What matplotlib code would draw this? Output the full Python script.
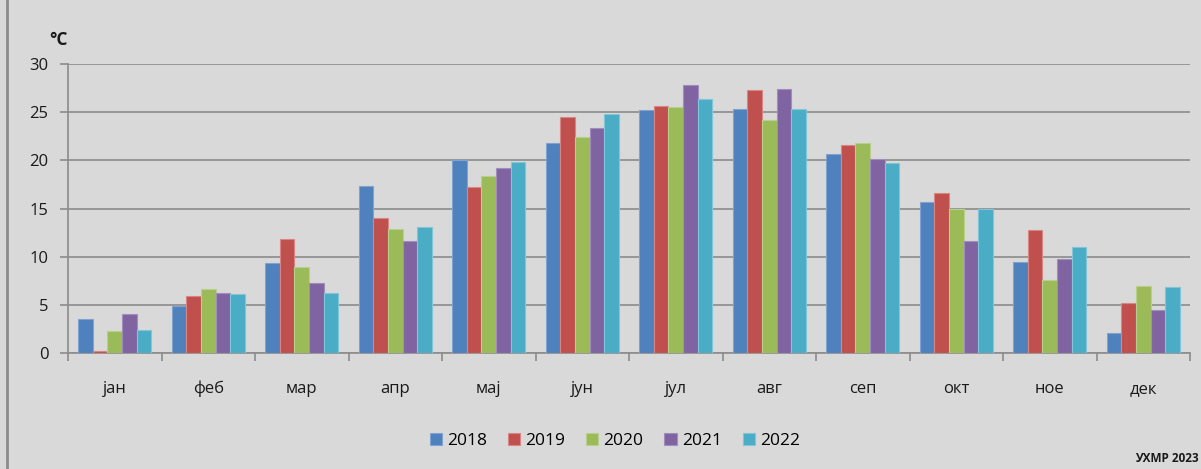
import matplotlib
matplotlib.use("Agg")
import matplotlib.pyplot as plt
import numpy as np
from matplotlib.lines import Line2D

months = ["јан", "феб", "мар", "апр", "мај", "јун", "јул", "авг", "сеп", "окт", "ное", "дек"]
years = ["2018", "2019", "2020", "2021", "2022"]
t2018 = [3.5, 4.9, 9.3, 17.3, 20.0, 21.8, 25.2, 25.3, 20.7, 15.7, 9.4, 2.1]
t2019 = [0.2, 5.9, 11.8, 14.0, 17.2, 24.5, 25.6, 27.3, 21.6, 16.6, 12.8, 5.2]
t2020 = [2.3, 6.6, 8.9, 12.9, 18.4, 22.4, 25.5, 24.2, 21.8, 15.0, 7.6, 7.0]
t2021 = [4.1, 6.2, 7.3, 11.6, 19.2, 23.4, 27.8, 27.4, 20.1, 11.6, 9.8, 4.5]
t2022 = [2.4, 6.1, 6.2, 13.1, 19.8, 24.8, 26.4, 25.3, 19.7, 15.0, 11.0, 6.8]
series = [t2018, t2019, t2020, t2021, t2022]
colors = ["#4F81BD", "#C0504D", "#9BBB59", "#8064A2", "#4BACC6"]
edges = ["#7FA3D0", "#D98683", "#B9D08C", "#A08CBD", "#80C6D8"]

plt.rcParams['font.family'] = ['Open Sans', 'DejaVu Sans']
bg = "#D9D9D9"
fig = plt.figure(figsize=(12.01, 4.69), dpi=100, facecolor=bg)
ax = fig.add_axes([68/1201, 1-353/469, (1190-68)/1201, (353-64)/469])
ax.set_facecolor(bg)

n = len(series)
x = np.arange(len(months))
w = 0.78 / n
for i, (s, c, e) in enumerate(zip(series, colors, edges)):
    ax.bar(x - 0.39 + w*(i+0.5), s, w, color=c, edgecolor=e, linewidth=0.8,
           label=years[i], zorder=3)

ax.set_xlim(-0.5, len(months)-0.5)
ax.set_ylim(0, 30)
ax.set_yticks(range(0, 31, 5))
ax.yaxis.grid(True, color="#8C8C8C", linewidth=1.2, zorder=0)
ax.set_axisbelow(True)
for sp in ["top", "right"]:
    ax.spines[sp].set_visible(False)
ax.spines["left"].set_color("#8C8C8C")
ax.spines["bottom"].set_color("#8C8C8C")
ax.spines["left"].set_linewidth(1.2)
ax.spines["bottom"].set_linewidth(1.2)

ax.set_xticks(x)
ax.set_xticklabels(months, fontsize=12, color="#1A1A1A")
ax.tick_params(axis="x", length=0, pad=20)
ax.set_xticks(np.arange(-0.5, len(months), 1.0), minor=True)
ax.tick_params(axis="x", which="minor", length=6, color="#8C8C8C", width=1.2)
ax.tick_params(axis="y", length=6, color="#8C8C8C", width=1.2, labelsize=12,
               labelcolor="#1A1A1A", pad=8)

fig.text(58/1201, 1-40/469, "°C", fontsize=12.5, fontweight="bold", color="#1A1A1A",
         ha="center", va="center")

ax.legend(loc="center", bbox_to_anchor=(615/1201, 1-441/469), bbox_transform=fig.transFigure,
          ncol=5, frameon=False, fontsize=12.5, handlelength=0.7, handleheight=0.7,
          handletextpad=0.3, columnspacing=1.2)

fig.text(1199/1201, 1-458/469, "УХМР 2023", fontsize=8.5, fontweight="bold",
         color="#1A1A1A", ha="right", va="center")

fig.add_artist(Line2D([7/1201, 7/1201], [0, 1], transform=fig.transFigure,
                      color="#8C8C8C", linewidth=2))

fig.savefig("out.png", dpi=100, facecolor=bg)
